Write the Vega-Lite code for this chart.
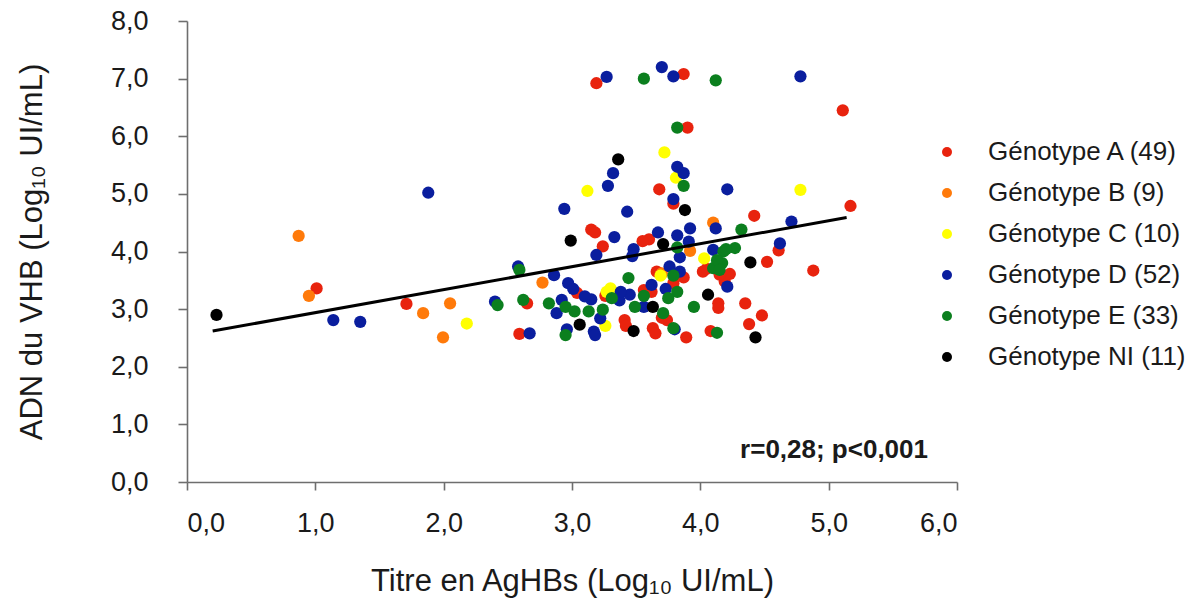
{
  "$schema": "https://vega.github.io/schema/vega-lite/v6.json",
  "autosize": "none",
  "width": 770,
  "height": 461,
  "padding": {"left": 187, "top": 21, "right": 243, "bottom": 128},
  "background": "white",
  "config": {
    "view": {"stroke": null},
    "font": "Liberation Sans",
    "locale": {"number": {"decimal": ",", "thousands": " ", "grouping": [3], "currency": ["", " €"]}},
    "axis": {"grid": false, "domainColor": "#6e6e6e", "domainWidth": 1.6, "tickColor": "#6e6e6e", "tickWidth": 1.6, "labelColor": "#1a1a1a", "titleColor": "#1a1a1a", "labelFont": "Liberation Sans", "titleFont": "Liberation Sans", "titleFontWeight": "normal"}
  },
  "datasets": {
    "pts": [
      {"g":"Génotype A (49)","x":1.01,"y":3.36},
      {"g":"Génotype A (49)","x":1.71,"y":3.09},
      {"g":"Génotype A (49)","x":3.19,"y":6.92},
      {"g":"Génotype A (49)","x":3.87,"y":7.08},
      {"g":"Génotype A (49)","x":3.90,"y":6.15},
      {"g":"Génotype A (49)","x":3.68,"y":5.08},
      {"g":"Génotype A (49)","x":3.79,"y":4.83},
      {"g":"Génotype A (49)","x":3.15,"y":4.38},
      {"g":"Génotype A (49)","x":3.18,"y":4.33},
      {"g":"Génotype A (49)","x":3.60,"y":4.21},
      {"g":"Génotype A (49)","x":3.24,"y":4.09},
      {"g":"Génotype A (49)","x":3.66,"y":3.65},
      {"g":"Génotype A (49)","x":4.02,"y":3.65},
      {"g":"Génotype A (49)","x":4.19,"y":3.48},
      {"g":"Génotype A (49)","x":3.04,"y":3.28},
      {"g":"Génotype A (49)","x":3.26,"y":3.23},
      {"g":"Génotype A (49)","x":3.56,"y":3.33},
      {"g":"Génotype A (49)","x":3.79,"y":3.45},
      {"g":"Génotype A (49)","x":2.65,"y":3.10},
      {"g":"Génotype A (49)","x":4.14,"y":3.10},
      {"g":"Génotype A (49)","x":4.14,"y":3.02},
      {"g":"Génotype A (49)","x":3.41,"y":2.81},
      {"g":"Génotype A (49)","x":3.42,"y":2.71},
      {"g":"Génotype A (49)","x":3.74,"y":2.81},
      {"g":"Génotype A (49)","x":3.63,"y":2.67},
      {"g":"Génotype A (49)","x":3.65,"y":2.58},
      {"g":"Génotype A (49)","x":3.89,"y":2.51},
      {"g":"Génotype A (49)","x":4.08,"y":2.62},
      {"g":"Génotype A (49)","x":2.59,"y":2.57},
      {"g":"Génotype A (49)","x":5.11,"y":6.45},
      {"g":"Génotype A (49)","x":5.17,"y":4.79},
      {"g":"Génotype A (49)","x":4.42,"y":4.62},
      {"g":"Génotype A (49)","x":4.61,"y":4.02},
      {"g":"Génotype A (49)","x":4.52,"y":3.82},
      {"g":"Génotype A (49)","x":4.88,"y":3.67},
      {"g":"Génotype A (49)","x":4.23,"y":3.61},
      {"g":"Génotype A (49)","x":4.35,"y":3.10},
      {"g":"Génotype A (49)","x":4.48,"y":2.89},
      {"g":"Génotype A (49)","x":4.38,"y":2.74},
      {"g":"Génotype A (49)","x":3.87,"y":3.55},
      {"g":"Génotype A (49)","x":3.70,"y":2.85},
      {"g":"Génotype A (49)","x":4.05,"y":3.70},
      {"g":"Génotype A (49)","x":3.55,"y":4.18},
      {"g":"Génotype A (49)","x":4.15,"y":3.60},
      {"g":"Génotype A (49)","x":3.62,"y":3.30},
      {"g":"Génotype B (9)","x":0.87,"y":4.27},
      {"g":"Génotype B (9)","x":0.95,"y":3.23},
      {"g":"Génotype B (9)","x":1.84,"y":2.93},
      {"g":"Génotype B (9)","x":2.05,"y":3.10},
      {"g":"Génotype B (9)","x":1.995,"y":2.51},
      {"g":"Génotype B (9)","x":4.10,"y":4.50},
      {"g":"Génotype B (9)","x":3.92,"y":4.01},
      {"g":"Génotype B (9)","x":2.77,"y":3.46},
      {"g":"Génotype B (9)","x":3.70,"y":3.62},
      {"g":"Génotype C (10)","x":2.18,"y":2.75},
      {"g":"Génotype C (10)","x":3.72,"y":5.72},
      {"g":"Génotype C (10)","x":3.81,"y":5.28},
      {"g":"Génotype C (10)","x":3.12,"y":5.05},
      {"g":"Génotype C (10)","x":4.03,"y":3.88},
      {"g":"Génotype C (10)","x":3.69,"y":3.58},
      {"g":"Génotype C (10)","x":3.30,"y":3.36},
      {"g":"Génotype C (10)","x":3.26,"y":2.71},
      {"g":"Génotype C (10)","x":4.78,"y":5.07},
      {"g":"Génotype C (10)","x":3.27,"y":3.30},
      {"g":"Génotype D (52)","x":1.14,"y":2.81},
      {"g":"Génotype D (52)","x":1.35,"y":2.78},
      {"g":"Génotype D (52)","x":1.88,"y":5.02},
      {"g":"Génotype D (52)","x":3.27,"y":7.03},
      {"g":"Génotype D (52)","x":3.70,"y":7.20},
      {"g":"Génotype D (52)","x":3.79,"y":7.04},
      {"g":"Génotype D (52)","x":3.82,"y":5.47},
      {"g":"Génotype D (52)","x":3.87,"y":5.36},
      {"g":"Génotype D (52)","x":3.32,"y":5.36},
      {"g":"Génotype D (52)","x":3.28,"y":5.14},
      {"g":"Génotype D (52)","x":4.21,"y":5.08},
      {"g":"Génotype D (52)","x":3.79,"y":4.91},
      {"g":"Génotype D (52)","x":2.94,"y":4.74},
      {"g":"Génotype D (52)","x":3.43,"y":4.69},
      {"g":"Génotype D (52)","x":4.12,"y":4.40},
      {"g":"Génotype D (52)","x":3.33,"y":4.25},
      {"g":"Génotype D (52)","x":3.67,"y":4.33},
      {"g":"Génotype D (52)","x":3.82,"y":4.28},
      {"g":"Génotype D (52)","x":3.92,"y":4.40},
      {"g":"Génotype D (52)","x":3.91,"y":4.17},
      {"g":"Génotype D (52)","x":3.48,"y":4.04},
      {"g":"Génotype D (52)","x":3.47,"y":3.92},
      {"g":"Génotype D (52)","x":3.19,"y":3.94},
      {"g":"Génotype D (52)","x":3.84,"y":3.90},
      {"g":"Génotype D (52)","x":2.58,"y":3.74},
      {"g":"Génotype D (52)","x":2.86,"y":3.59},
      {"g":"Génotype D (52)","x":3.76,"y":3.74},
      {"g":"Génotype D (52)","x":4.21,"y":3.39},
      {"g":"Génotype D (52)","x":2.97,"y":3.45},
      {"g":"Génotype D (52)","x":3.01,"y":3.35},
      {"g":"Génotype D (52)","x":3.37,"y":3.15},
      {"g":"Génotype D (52)","x":3.45,"y":3.25},
      {"g":"Génotype D (52)","x":3.73,"y":3.35},
      {"g":"Génotype D (52)","x":3.15,"y":3.17},
      {"g":"Génotype D (52)","x":2.92,"y":3.16},
      {"g":"Génotype D (52)","x":2.88,"y":2.93},
      {"g":"Génotype D (52)","x":3.22,"y":2.84},
      {"g":"Génotype D (52)","x":2.40,"y":3.13},
      {"g":"Génotype D (52)","x":3.56,"y":3.04},
      {"g":"Génotype D (52)","x":3.80,"y":2.65},
      {"g":"Génotype D (52)","x":2.67,"y":2.58},
      {"g":"Génotype D (52)","x":2.96,"y":2.65},
      {"g":"Génotype D (52)","x":3.17,"y":2.61},
      {"g":"Génotype D (52)","x":3.18,"y":2.55},
      {"g":"Génotype D (52)","x":4.78,"y":7.04},
      {"g":"Génotype D (52)","x":4.71,"y":4.52},
      {"g":"Génotype D (52)","x":4.62,"y":4.14},
      {"g":"Génotype D (52)","x":3.84,"y":3.65},
      {"g":"Génotype D (52)","x":4.10,"y":4.03},
      {"g":"Génotype D (52)","x":3.10,"y":3.22},
      {"g":"Génotype D (52)","x":3.62,"y":3.42},
      {"g":"Génotype D (52)","x":3.38,"y":3.30},
      {"g":"Génotype E (33)","x":3.56,"y":7.00},
      {"g":"Génotype E (33)","x":4.12,"y":6.97},
      {"g":"Génotype E (33)","x":3.82,"y":6.15},
      {"g":"Génotype E (33)","x":3.87,"y":5.14},
      {"g":"Génotype E (33)","x":3.82,"y":4.07},
      {"g":"Génotype E (33)","x":4.18,"y":4.00},
      {"g":"Génotype E (33)","x":4.17,"y":3.80},
      {"g":"Génotype E (33)","x":4.10,"y":3.71},
      {"g":"Génotype E (33)","x":2.59,"y":3.68},
      {"g":"Génotype E (33)","x":3.79,"y":3.58},
      {"g":"Génotype E (33)","x":3.44,"y":3.54},
      {"g":"Génotype E (33)","x":3.31,"y":3.19},
      {"g":"Génotype E (33)","x":3.56,"y":3.23},
      {"g":"Génotype E (33)","x":3.82,"y":3.30},
      {"g":"Génotype E (33)","x":3.75,"y":3.19},
      {"g":"Génotype E (33)","x":2.82,"y":3.10},
      {"g":"Génotype E (33)","x":2.95,"y":3.04},
      {"g":"Génotype E (33)","x":3.02,"y":2.96},
      {"g":"Génotype E (33)","x":3.13,"y":2.96},
      {"g":"Génotype E (33)","x":3.24,"y":2.99},
      {"g":"Génotype E (33)","x":2.42,"y":3.07},
      {"g":"Génotype E (33)","x":2.62,"y":3.16},
      {"g":"Génotype E (33)","x":3.49,"y":3.04},
      {"g":"Génotype E (33)","x":3.71,"y":2.93},
      {"g":"Génotype E (33)","x":3.95,"y":3.04},
      {"g":"Génotype E (33)","x":3.79,"y":2.67},
      {"g":"Génotype E (33)","x":4.13,"y":2.59},
      {"g":"Génotype E (33)","x":2.95,"y":2.55},
      {"g":"Génotype E (33)","x":4.32,"y":4.38},
      {"g":"Génotype E (33)","x":4.27,"y":4.06},
      {"g":"Génotype E (33)","x":4.20,"y":4.04},
      {"g":"Génotype E (33)","x":4.13,"y":3.85},
      {"g":"Génotype E (33)","x":4.15,"y":3.68},
      {"g":"Génotype NI (11)","x":0.23,"y":2.90},
      {"g":"Génotype NI (11)","x":3.36,"y":5.60},
      {"g":"Génotype NI (11)","x":3.88,"y":4.72},
      {"g":"Génotype NI (11)","x":2.99,"y":4.19},
      {"g":"Génotype NI (11)","x":3.71,"y":4.13},
      {"g":"Génotype NI (11)","x":4.06,"y":3.25},
      {"g":"Génotype NI (11)","x":3.63,"y":3.04},
      {"g":"Génotype NI (11)","x":3.06,"y":2.73},
      {"g":"Génotype NI (11)","x":3.48,"y":2.62},
      {"g":"Génotype NI (11)","x":4.39,"y":3.81},
      {"g":"Génotype NI (11)","x":4.43,"y":2.51}
    ],
    "fit": [
      {"x": 0.2, "y": 2.62},
      {"x": 5.14, "y": 4.59}
    ],
    "note": [
      {"x": 5.774, "y": 0.555, "label": "r=0,28; p<0,001"}
    ]
  },
  "layer": [
    {
      "data": {"name": "pts"},
      "mark": {"type": "circle", "size": 150, "opacity": 1},
      "encoding": {
        "x": {"field": "x", "type": "quantitative",
          "scale": {"domain": [0, 6], "nice": false, "zero": false},
          "axis": {"values": [0,1,2,3,4,5,6], "format": ".1f", "title": "Titre en AgHBs (Log₁₀ UI/mL)", "labelFontSize": 27, "titleFontSize": 31, "tickSize": 8, "labelPadding": 20, "titlePadding": 30}},
        "y": {"field": "y", "type": "quantitative",
          "scale": {"domain": [0, 8], "nice": false, "zero": false},
          "axis": {"values": [0,1,2,3,4,5,6,7,8], "format": ".1f", "title": "ADN du VHB (Log₁₀ UI/mL)", "labelFontSize": 27, "titleFontSize": 31, "tickSize": 9, "labelPadding": 30, "titlePadding": 62}},
        "color": {"field": "g", "type": "nominal",
          "scale": {"domain": ["Génotype A (49)", "Génotype B (9)", "Génotype C (10)", "Génotype D (52)", "Génotype E (33)", "Génotype NI (11)"],
                    "range": ["#E8230E", "#FF7A0A", "#FFFF00", "#0A1E9E", "#0B7F1E", "#000000"]},
          "legend": {"title": null, "orient": "none", "legendX": 747, "legendY": 118, "padding": 0, "symbolType": "circle", "symbolSize": 100, "labelFontSize": 26, "labelFont": "Liberation Sans", "labelColor": "#1a1a1a", "labelOffset": 28, "rowPadding": 15, "labelLimit": 400}
        }
      }
    },
    {
      "data": {"name": "fit"},
      "mark": {"type": "line", "color": "#000000", "strokeWidth": 3},
      "encoding": {
        "x": {"field": "x", "type": "quantitative"},
        "y": {"field": "y", "type": "quantitative"}
      }
    },
    {
      "data": {"name": "note"},
      "mark": {"type": "text", "align": "right", "baseline": "middle", "fontSize": 26, "fontWeight": "bold", "font": "Liberation Sans", "color": "#1a1a1a"},
      "encoding": {
        "x": {"field": "x", "type": "quantitative"},
        "y": {"field": "y", "type": "quantitative"},
        "text": {"field": "label"}
      }
    }
  ]
}
